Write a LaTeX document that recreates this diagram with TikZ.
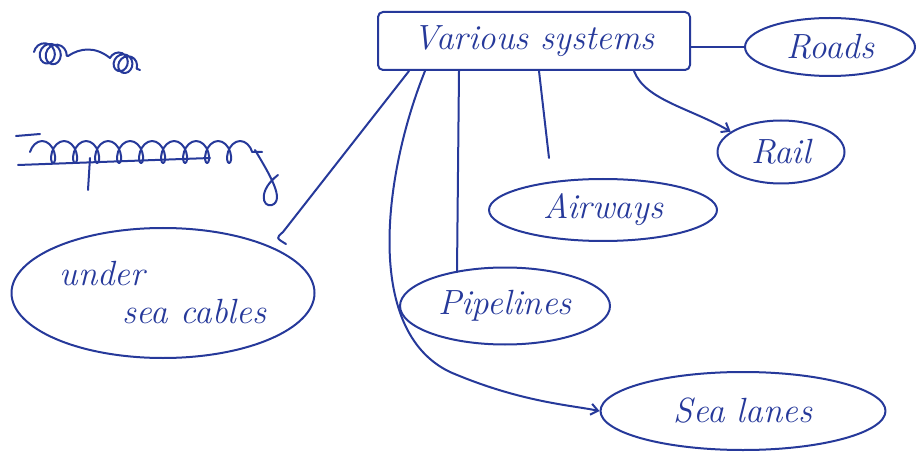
\documentclass[tikz,border=0pt]{standalone}
\usepackage{tikz}
\usetikzlibrary{shapes.geometric,arrows.meta,calc,decorations.pathmorphing}

\definecolor{ink}{HTML}{26399A}
\newcommand{\handfont}{\fontsize{35}{38}\selectfont\itshape}

\tikzset{
	pen/.style={draw=ink, line width=2pt, line cap=round, line join=round},
	bubble/.style={pen, ellipse, inner sep=0pt, text=ink, font=\handfont},
	sysbox/.style={pen, rounded corners=5pt, text=ink, font=\handfont, minimum width=312pt, minimum height=58pt},
	tip/.style={-{Straight Barb[length=7pt,width=11pt]}},
	scribble/.style={pen, decorate, decoration={coil, aspect=0.9, segment length=6pt, amplitude=10pt}}
}

\begin{document}
\begin{tikzpicture}[x=1pt,y=-1pt]
		\useasboundingbox (0,0) rectangle (920,454);
		
		% Main box
		\node[sysbox] (sys) at (534,41) {Various systems};
		
		% The systems
		\node[bubble, minimum width=170pt, minimum height=58pt] (roads) at (830,47) {Roads};
		\node[bubble, minimum width=127pt, minimum height=63pt] (rail) at (781,152) {Rail};
		\node[bubble, minimum width=228pt, minimum height=62pt] (airways) at (603,210) {Airways};
		\node[bubble, minimum width=303pt, minimum height=130pt, align=left] (cables) at (163,293) {under\\\hspace{1.8em}sea cables};
		\node[bubble, minimum width=210pt, minimum height=77pt] (pipelines) at (505,306) {Pipelines};
		\node[bubble, minimum width=285pt, minimum height=78pt] (sealanes) at (743,411) {Sea lanes};
		
		% Crossed out words
		\draw[scribble] (34,52) -- (68,56);
		\draw[pen] (68,56) .. controls (80,48) and (95,46) .. (110,58);
		\draw[scribble, decoration={coil, aspect=0.9, segment length=5pt, amplitude=9pt}] (110,58) -- (140,70);
		\draw[scribble, decoration={coil, aspect=0.6, segment length=22pt, amplitude=11pt}] (30,152) -- (262,152);
		\draw[pen] (16,136) -- (40,134);
		\draw[pen] (18,165) -- (210,158);
		\draw[pen] (90,158) -- (88,190);
		\draw[pen] (255,150) .. controls (270,175) and (285,200) .. (272,205) .. controls (262,208) and (258,190) .. (278,175);
		
		% Start points on the box
		\coordinate (s1) at ($(sys.south west)+(32,0)$);
		\coordinate (s2) at ($(sys.south west)+(48,0)$);
		\coordinate (s3) at ($(sys.south west)+(82,0)$);
		\coordinate (s4) at ($(sys.south west)+(162,0)$);
		\coordinate (s5) at ($(sys.south west)+(257,0)$);
		
		% Free ends
		\coordinate (hook) at (286,244);
		\coordinate (airend) at (549,158);
		\coordinate (pipeend) at (457,272);
		
		% Connectors
		\draw[pen] (roads.west) -- (roads.west -| sys.east);
		\draw[pen, tip] (s5) .. controls (645,100) and (690,108) .. (rail.158);
		\draw[pen] (s4) -- (airend);
		\draw[pen] (s3) -- (pipeend);
		\draw[pen] (s1) -- (283,232) .. controls (276,238) .. (hook);
		\draw[pen, tip] (s2) .. controls (385,170) and (362,330) .. (450,372) .. controls (520,402) and (570,405) .. (sealanes.west);
	\end{tikzpicture}
\end{document}
